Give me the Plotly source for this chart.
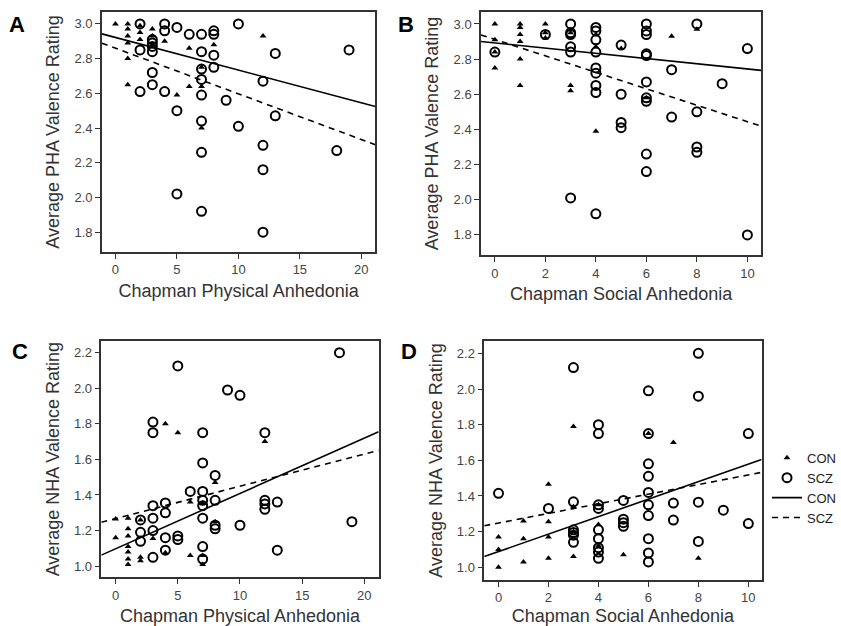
import plotly.graph_objects as go

# ---------------- data ----------------
# Panel A: PHA valence vs Chapman Physical Anhedonia
A_scz_x = [2, 2, 2, 3, 3, 3, 3, 3, 3, 4, 4, 4, 5, 5, 5, 6, 7, 7, 7, 7, 7, 7, 7, 7,
           8, 8, 8, 8, 9, 10, 10, 12, 12, 12, 12, 13, 13, 18, 19]
A_scz_y = [3.00, 2.85, 2.61, 2.91, 2.89, 2.87, 2.84, 2.72, 2.65, 3.00, 2.96, 2.61,
           2.98, 2.50, 2.02, 2.94, 2.94, 2.84, 2.74, 2.68, 2.59, 2.44, 2.26, 1.92,
           2.96, 2.94, 2.82, 2.75, 2.56, 3.00, 2.41, 2.67, 2.30, 2.16, 1.80, 2.83,
           2.47, 2.27, 2.85]
A_con_x = [0, 1, 1, 1, 1, 1, 1, 2, 2, 2, 3, 3, 3, 4, 5, 6, 6, 7, 7, 7, 8, 12]
A_con_y = [3.00, 3.00, 2.97, 2.93, 2.89, 2.80, 2.65, 2.99, 2.95, 2.91, 2.97, 2.93,
           2.88, 2.90, 2.59, 2.86, 2.64, 2.75, 2.64, 2.40, 2.88, 2.93]
A_con_fit = [2.922, -0.0188]   # intercept, slope
A_scz_fit = [2.860, -0.0263]

# Panel B: PHA valence vs Chapman Social Anhedonia
B_scz_x = [0, 2, 3, 3, 3, 3, 3, 3, 4, 4, 4, 4, 4, 4, 4, 4, 4, 5, 5, 5, 5,
           6, 6, 6, 6, 6, 6, 6, 6, 6, 6, 7, 7, 8, 8, 8, 8, 9, 10, 10]
B_scz_y = [2.84, 2.94, 3.00, 2.95, 2.94, 2.87, 2.84, 2.01, 2.98, 2.96, 2.91, 2.84,
           2.75, 2.72, 2.65, 2.61, 1.92, 2.88, 2.60, 2.44, 2.41, 3.00, 2.96, 2.94,
           2.83, 2.82, 2.67, 2.58, 2.56, 2.26, 2.16, 2.74, 2.47, 3.00, 2.50, 2.30,
           2.27, 2.66, 2.86, 1.80]
B_con_x = [0, 0, 0, 0, 1, 1, 1, 1, 1, 1, 2, 2, 2, 3, 3, 3, 4, 4, 4, 5, 6, 7, 8]
B_con_y = [3.00, 2.91, 2.84, 2.75, 3.00, 2.98, 2.94, 2.90, 2.80, 2.65, 3.00, 2.95,
           2.92, 2.95, 2.65, 2.62, 2.94, 2.87, 2.39, 2.86, 2.58, 2.93, 2.97]
B_con_fit = [2.892, -0.0148]
B_scz_fit = [2.912, -0.0468]

# Panel C: NHA valence vs Chapman Physical Anhedonia
C_scz_x = [2, 2, 2, 3, 3, 3, 3, 3, 3, 4, 4, 4, 4, 5, 5, 5, 6, 7, 7, 7, 7, 7, 7, 7, 7,
           8, 8, 8, 8, 9, 10, 10, 12, 12, 12, 12, 13, 13, 18, 19]
C_scz_y = [1.26, 1.19, 1.14, 1.81, 1.75, 1.34, 1.27, 1.20, 1.05, 1.355, 1.30, 1.16,
           1.09, 2.125, 1.17, 1.15, 1.42, 1.75, 1.58, 1.42, 1.37, 1.34, 1.27, 1.11,
           1.04, 1.51, 1.37, 1.23, 1.21, 1.99, 1.96, 1.23, 1.75, 1.37, 1.35, 1.32,
           1.36, 1.09, 2.20, 1.25]
C_con_x = [0, 0, 1, 1, 1, 1, 1, 1, 1, 2, 2, 2, 3, 4, 4, 5, 6, 6, 7, 7, 7, 8, 8, 12]
C_con_y = [1.265, 1.16, 1.27, 1.21, 1.17, 1.11, 1.08, 1.04, 1.01, 1.26, 1.05, 1.03,
           1.155, 1.80, 1.075, 1.75, 1.36, 1.06, 1.355, 1.06, 1.01, 1.47, 1.25, 1.70]
C_con_fit = [1.098, 0.0311]
C_scz_fit = [1.268, 0.0181]

# Panel D: NHA valence vs Chapman Social Anhedonia
D_scz_x = [0, 2, 3, 3, 3, 3, 3, 3, 4, 4, 4, 4, 4, 4, 4, 4, 4, 5, 5, 5, 5,
           6, 6, 6, 6, 6, 6, 6, 6, 6, 6, 7, 7, 8, 8, 8, 8, 9, 10, 10]
D_scz_y = [1.415, 1.33, 2.12, 1.367, 1.21, 1.195, 1.18, 1.14, 1.80, 1.75, 1.35, 1.33,
           1.21, 1.16, 1.11, 1.085, 1.05, 1.375, 1.27, 1.25, 1.23, 1.99, 1.75, 1.58,
           1.51, 1.42, 1.35, 1.29, 1.16, 1.08, 1.03, 1.36, 1.265, 2.20, 1.96, 1.365,
           1.145, 1.32, 1.75, 1.245]
D_con_x = [0, 0, 0, 1, 1, 1, 2, 2, 2, 2, 3, 3, 3, 3, 4, 4, 4, 5, 6, 7, 8]
D_con_y = [1.17, 1.10, 1.00, 1.26, 1.16, 1.03, 1.465, 1.255, 1.17, 1.05, 1.79, 1.34,
           1.20, 1.06, 1.35, 1.24, 1.12, 1.07, 1.75, 1.70, 1.05]
D_con_fit = [1.088, 0.0490]
D_scz_fit = [1.248, 0.0270]

# tick labels / titles
phys_ticks = [0, 5, 10, 15, 20]
soc_ticks = [0, 2, 4, 6, 8, 10]
pha_ticks = [1.8, 2.0, 2.2, 2.4, 2.6, 2.8, 3.0]
nha_ticks = [1.0, 1.2, 1.4, 1.6, 1.8, 2.0, 2.2]
x_titles = ["Chapman Physical Anhedonia", "Chapman Social Anhedonia",
            "Chapman Physical Anhedonia", "Chapman Social Anhedonia"]
y_titles = ["Average PHA Valence Rating", "Average PHA Valence Rating",
            "Average NHA Valence Rating", "Average NHA Valence Rating"]
panel_letters = ["A", "B", "C", "D"]

# ---------------- layout geometry ----------------
W, H = 841, 626
FONT = "Arial, Liberation Sans, Helvetica, sans-serif"

panels = [
    dict(con=(A_con_x, A_con_y), scz=(A_scz_x, A_scz_y), fits=(A_con_fit, A_scz_fit),
         xdom=(102.3, 376.7), ydom=(12, 253.3), xr=(-1.1, 21.14), yr=(1.685, 3.069),
         xt=phys_ticks, yt=pha_ticks),
    dict(con=(B_con_x, B_con_y), scz=(B_scz_x, B_scz_y), fits=(B_con_fit, B_scz_fit),
         xdom=(482.7, 764.0), ydom=(11.7, 256.7), xr=(-0.55, 10.55), yr=(1.683, 3.07),
         xt=soc_ticks, yt=pha_ticks),
    dict(con=(C_con_x, C_con_y), scz=(C_scz_x, C_scz_y), fits=(C_con_fit, C_scz_fit),
         xdom=(101.7, 380.0), ydom=(342.7, 580.0), xr=(-1.15, 21.15), yr=(0.938, 2.265),
         xt=phys_ticks, yt=nha_ticks),
    dict(con=(D_con_x, D_con_y), scz=(D_scz_x, D_scz_y), fits=(D_con_fit, D_scz_fit),
         xdom=(486.0, 764.3), ydom=(342.7, 582.7), xr=(-0.57, 10.53), yr=(0.929, 2.269),
         xt=soc_ticks, yt=nha_ticks),
]
letter_pos = [(17, 25), (407, 25), (20, 353), (410, 353)]

fig = go.Figure()
layout = dict(
    width=W, height=H, margin=dict(l=0, r=0, t=0, b=0),
    paper_bgcolor="white", plot_bgcolor="white",
    font=dict(family=FONT, color="#333"),
    showlegend=True,
    legend=dict(x=770 / W, y=1 - 445 / H, xanchor="left", yanchor="top",
                font=dict(size=13, color="#222", family=FONT),
                itemwidth=30, tracegroupgap=0, bgcolor="rgba(0,0,0,0)",
                traceorder="normal"),
    annotations=[],
)

for i, p in enumerate(panels):
    n = "" if i == 0 else str(i + 1)
    xa, ya = "x" + n, "y" + n
    first = i == 0
    cx, cy = p["con"]
    sx, sy = p["scz"]
    fig.add_trace(go.Scatter(
        x=cx, y=cy, mode="markers", xaxis=xa, yaxis=ya, name="CON",
        showlegend=first,
        marker=dict(symbol="triangle-up", size=6, color="black", line=dict(width=0))))
    fig.add_trace(go.Scatter(
        x=sx, y=sy, mode="markers", xaxis=xa, yaxis=ya, name="SCZ",
        showlegend=first,
        marker=dict(symbol="circle-open", size=9, color="black", line=dict(width=2, color="black"))))
    x0, x1 = p["xr"]
    con_fit, scz_fit = p["fits"]
    fig.add_trace(go.Scatter(
        x=[x0, x1], y=[con_fit[0] + con_fit[1] * x0, con_fit[0] + con_fit[1] * x1],
        mode="lines", xaxis=xa, yaxis=ya, name="CON",
        showlegend=first, line=dict(color="black", width=1.6)))
    fig.add_trace(go.Scatter(
        x=[x0, x1], y=[scz_fit[0] + scz_fit[1] * x0, scz_fit[0] + scz_fit[1] * x1],
        mode="lines", xaxis=xa, yaxis=ya, name="SCZ",
        showlegend=first, line=dict(color="black", width=1.6, dash="6px,5px")))

    common = dict(showline=True, mirror=True, linecolor="#333", linewidth=1.5,
                  ticks="outside", ticklen=5, tickwidth=1.3, tickcolor="#333",
                  showgrid=False, zeroline=False,
                  tickfont=dict(size=13, color="#444", family=FONT))
    layout["xaxis" + n] = dict(
        common, domain=[p["xdom"][0] / W, p["xdom"][1] / W], range=list(p["xr"]),
        tickvals=p["xt"], anchor=ya,
        title=dict(text=x_titles[i], font=dict(size=18, color="#333", family=FONT), standoff=8))
    layout["yaxis" + n] = dict(
        common, domain=[1 - p["ydom"][1] / H, 1 - p["ydom"][0] / H], range=list(p["yr"]),
        tickvals=p["yt"], tickformat=".1f", anchor=xa,
        title=dict(text=y_titles[i], font=dict(size=18, color="#333", family=FONT), standoff=10))
    lx, ly = letter_pos[i]
    layout["annotations"].append(dict(
        text="<b>%s</b>" % panel_letters[i], x=lx / W, y=1 - ly / H, xref="paper", yref="paper",
        xanchor="center", yanchor="middle", showarrow=False,
        font=dict(size=22, color="black", family=FONT)))

fig.update_layout(**layout)
fig.write_html("out.html", config={"displayModeBar": False},
               post_script="document.body.style.margin='0';document.body.style.overflow='hidden';")
